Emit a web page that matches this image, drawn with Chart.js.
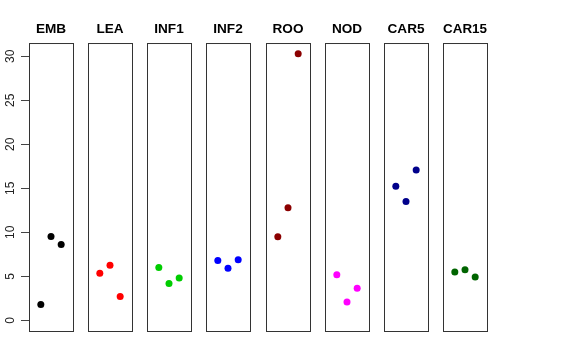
<!DOCTYPE html>
<html lang="en">
<head>
    <meta charset="UTF-8">
    <title>Panels</title>
    <script src="https://cdn.jsdelivr.net/npm/chart.js"></script>
    <style>
        body { margin: 0; background: #fff; }
        #wrap { position: relative; width: 576px; height: 360px; }
        #wrap canvas { position: absolute; top: 0; }
    </style>
</head>
<body>
    <div id="wrap"></div>

    <script>
        // panel names and the three values in each panel
        const panels = ['EMB', 'LEA', 'INF1', 'INF2', 'ROO', 'NOD', 'CAR5', 'CAR15'];
        const EMB = [1.8, 9.52, 8.61];
        const LEA = [5.36, 6.27, 2.7];
        const INF1 = [6.0, 4.18, 4.8];
        const INF2 = [6.8, 5.93, 6.88];
        const ROO = [9.49, 12.78, 30.3];
        const NOD = [5.17, 2.07, 3.66];
        const CAR5 = [15.25, 13.5, 17.07];
        const CAR15 = [5.48, 5.74, 4.91];
        const xPos = [1, 2, 3];
        const yTicks = [0, 5, 10, 15, 20, 25, 30];

        const series = [EMB, LEA, INF1, INF2, ROO, NOD, CAR5, CAR15];
        const colors = ['#000000', '#FF0000', '#00CD00', '#0000FF', '#8B0000', '#FF00FF', '#00008B', '#006400'];

        // R style limits: 0..max padded by 4%
        const yMax = 30.3;
        const yMin = 0;
        const yPad = (yMax - yMin) * 0.04;

        const framePlugin = {
            id: 'frame',
            afterDraw(chart) {
                const a = chart.chartArea;
                const ctx = chart.ctx;
                ctx.save();
                ctx.strokeStyle = '#333';
                ctx.lineWidth = 1;
                ctx.strokeRect(a.left + 0.5, a.top + 0.5, a.width, a.height);
                ctx.restore();
            }
        };

        // rotated y tick labels, like R's axis()
        const yLabels = {
            id: 'yLabels',
            afterDraw(chart) {
                const sc = chart.scales.y;
                if (!sc.options.display) return;
                const ctx = chart.ctx;
                ctx.save();
                ctx.font = '12px "Liberation Sans", Arial, sans-serif';
                ctx.fillStyle = '#222';
                ctx.textAlign = 'center';
                ctx.textBaseline = 'middle';
                sc.ticks.forEach(t => {
                    ctx.save();
                    ctx.translate(11, sc.getPixelForValue(t.value));
                    ctx.rotate(-Math.PI / 2);
                    ctx.fillText(String(t.value), 0, 0);
                    ctx.restore();
                });
                ctx.restore();
            }
        };

        const wrap = document.getElementById('wrap');
        const boxW = 44;

        panels.forEach((name, i) => {
            const first = i === 0;
            const boxLeft = Math.round(28.7 + 59.23 * i);
            const cv = document.createElement('canvas');
            const cvLeft = first ? 0 : boxLeft - 2;
            const cvWidth = first ? boxLeft + boxW + 2 : boxW + 4;
            cv.width = cvWidth;
            cv.height = 360;
            cv.style.left = cvLeft + 'px';
            wrap.appendChild(cv);

            const yScale = {
                display: first,
                min: yMin - yPad,
                max: yMax + yPad,
                afterBuildTicks: sc => { sc.ticks = yTicks.map(v => ({ value: v })); },
                border: { display: false },
                grid: { display: true, drawOnChartArea: false, drawTicks: true, tickLength: 8, tickColor: '#444' },
                ticks: { display: false }
            };
            if (first) yScale.afterFit = sc => { sc.width = boxLeft; };

            new Chart(cv.getContext('2d'), {
                type: 'scatter',
                data: {
                    datasets: [{
                        data: xPos.map((x, k) => ({ x: x, y: series[i][k] })),
                        backgroundColor: colors[i],
                        borderWidth: 0,
                        pointRadius: 3.5,
                        pointHoverRadius: 3.5
                    }]
                },
                options: {
                    responsive: false,
                    animation: false,
                    events: [],
                    layout: { autoPadding: false, padding: { left: first ? 0 : 2, right: 2, top: 0, bottom: 29 } },
                    scales: {
                        x: { display: false, min: 1 - 1.16, max: 3 + 1.16 },
                        y: yScale
                    },
                    plugins: {
                        legend: { display: false },
                        tooltip: { enabled: false },
                        title: {
                            display: true,
                            text: name,
                            fullSize: false,
                            color: '#000',
                            font: { family: '"Liberation Sans", Arial, sans-serif', size: 13.6, weight: 'bold' },
                            padding: { top: 21.3, bottom: 5.4 }
                        }
                    }
                },
                plugins: [framePlugin, yLabels]
            });
        });
    </script>
</body>
</html>
